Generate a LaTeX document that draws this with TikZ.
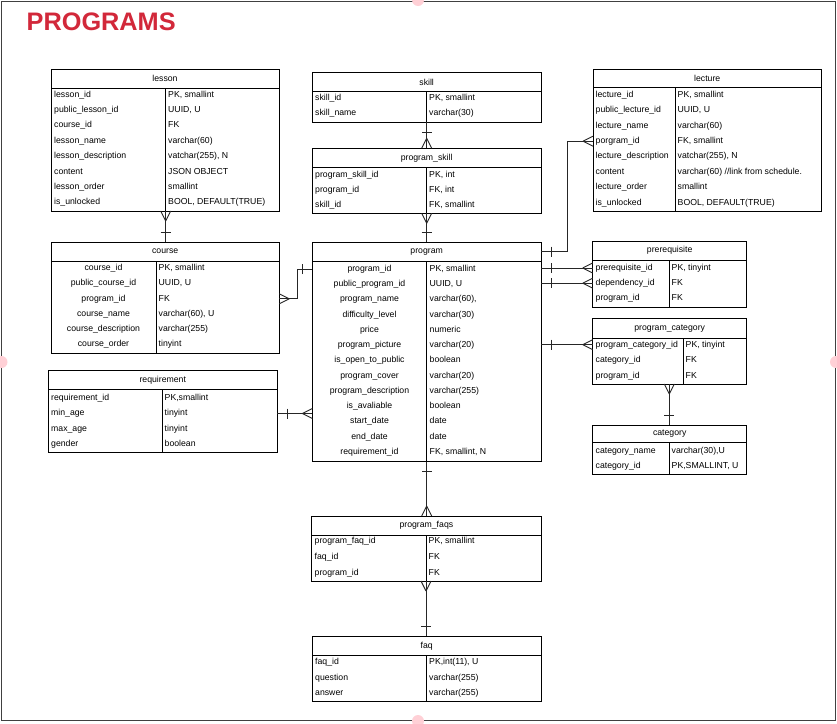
\documentclass[tikz,border=0pt]{standalone}
\usepackage{fontspec}
\setmainfont{Liberation Sans}
\definecolor{titlered}{RGB}{210,40,58}
\definecolor{handlepink}{RGB}{255,208,214}
\newcommand\tfont{\fontsize{8.7}{10}\selectfont}
\tikzset{
  tbl/.style={draw=black, line width=0.9pt, rectangle, inner sep=0pt, outer sep=0pt},
  tblline/.style={draw=black, line width=0.9pt},
  hdr/.style={font=\tfont, inner sep=0pt},
  rowtxt/.style={font=\tfont, inner sep=0pt, text height=6.3pt, text depth=1.7pt},
  conn/.style={draw=black!85, line width=0.9pt},
  titletext/.style={font=\fontsize{25.3}{28}\selectfont\bfseries, text=titlered, inner sep=0pt},
  crowfoot/.pic={\draw[conn] (10,0) -- (0,5) (10,0) -- (0,-5);},
  onebar/.pic={\draw[conn] (10,-5) -- (10,5);}
}
% id, x1, y1, x2, y2, header line y, divider x, title
\newcommand\ertbox[8]{%
  \node[tbl, minimum width={(#4-#2)*1pt}, minimum height={(#5-#3)*1pt}] (#1) at ({(#2+#4)/2},{(#3+#5)/2}) {};
  \coordinate (#1-d) at (#7,#6);
  \draw[tblline] (#2,#6) -- (#4,#6);
  \draw[tblline] (#7,#6) -- (#7,#5);
  \node[hdr] (#1-title) at ({(#2+#4)/2},{(#3+#6)/2}) {#8};
}
% id, key x, value x, first row y, row step, key anchor, list
\newcommand\ertrows[7]{%
  \foreach \k/\v [count=\i] in {#7} {
    \node[rowtxt, anchor=#6] (#1-k\i) at (#2, {#4+(\i-1)*#5+3}) {\k};
    \node[rowtxt, anchor=base west] (#1-v\i) at (#3, {#4+(\i-1)*#5+3}) {\v};
  }
}
\begin{document}
\begin{tikzpicture}[x=1pt,y=-1pt]
\useasboundingbox (0,0) rectangle (837,723);
\clip (0,0) rectangle (837,723);
\fill[white] (0,0) rectangle (837,723);
\draw[black!75, line width=0.9pt] (1.5,1.5) rectangle (835.8,720.8);

\node[titletext, anchor=base west] (title) at (26.5,30.8) {PROGRAMS};

% lesson
\ertbox{lesson}{51}{69}{279}{211}{88}{165.7}{lesson}
\ertrows{lesson}{54}{168}{94}{15.4}{base west}{lesson\_id/{PK, smallint}, public\_lesson\_id/{UUID, U}, course\_id/FK, lesson\_name/varchar(60), lesson\_description/{vatchar(255), N}, content/JSON OBJECT, lesson\_order/smallint, is\_unlocked/{BOOL, DEFAULT(TRUE)}}

% skill
\ertbox{skill}{312.3}{72.3}{541}{122}{91.7}{426.7}{skill}
\ertrows{skill}{315}{429}{97.7}{15}{base west}{skill\_id/{PK, smallint}, skill\_name/varchar(30)}

% program_skill
\ertbox{progskill}{312.3}{148.3}{541}{213.3}{167.3}{426.7}{program\_skill}
\ertrows{progskill}{315}{429}{174.3}{15}{base west}{program\_skill\_id/{PK, int}, program\_id/{FK, int}, skill\_id/{FK, smallint}}

% lecture
\ertbox{lecture}{593}{69}{821.5}{211.5}{87.3}{675}{lecture}
\ertrows{lecture}{595.5}{677.5}{94.3}{15.4}{base west}{lecture\_id/{PK, smallint}, public\_lecture\_id/{UUID, U}, lecture\_name/varchar(60), porgram\_id/{FK, smallint}, lecture\_description/{vatchar(255), N}, content/{varchar(60) //link from schedule.}, lecture\_order/smallint, is\_unlocked/{BOOL, DEFAULT(TRUE)}}

% course
\ertbox{course}{51}{242.3}{279.3}{353.3}{261}{156}{course}
\ertrows{course}{103.5}{158.5}{267.7}{15.2}{base}{course\_id/{PK, smallint}, public\_course\_id/{UUID, U}, program\_id/FK, course\_name/{varchar(60), U}, course\_description/varchar(255), course\_order/tinyint}

% program
\ertbox{program}{312.3}{242.3}{541}{461.7}{261}{426.7}{program}
\ertrows{program}{369.5}{429.5}{268.3}{15.25}{base}{program\_id/{PK, smallint}, public\_program\_id/{UUID, U}, program\_name/{varchar(60),}, difficulty\_level/varchar(30), price/numeric, program\_picture/varchar(20), is\_open\_to\_public/boolean, program\_cover/varchar(20), program\_description/varchar(255), is\_avaliable/boolean, start\_date/date, end\_date/date, requirement\_id/{FK, smallint, N}}

% prerequisite
\ertbox{prereq}{592.7}{241}{746.7}{307}{260.3}{669.3}{prerequisite}
\ertrows{prereq}{595.5}{671.5}{267.3}{15.2}{base west}{prerequisite\_id/{PK, tinyint}, dependency\_id/FK, program\_id/FK}

% program_category
\ertbox{progcat}{592.7}{318.7}{746.7}{384}{338.3}{683.3}{program\_category}
\ertrows{progcat}{595.5}{685.5}{344}{15.5}{base west}{program\_category\_id/{PK, tinyint}, category\_id/FK, program\_id/FK}

% category
\ertbox{category}{592.7}{425}{746.7}{474.3}{442.3}{669.3}{category}
\ertrows{category}{595.5}{671.5}{450}{15.7}{base west}{category\_name/{varchar(30),U}, category\_id/{PK,SMALLINT, U}}

% requirement
\ertbox{requirement}{48.3}{370.7}{277.3}{452.3}{389}{162.3}{requirement}
\ertrows{requirement}{51}{164.5}{397.3}{15.5}{base west}{requirement\_id/{PK,smallint}, min\_age/tinyint, max\_age/tinyint, gender/boolean}

% program_faqs
\ertbox{progfaqs}{311.7}{516}{541}{581}{535}{426}{program\_faqs}
\ertrows{progfaqs}{314.5}{428.5}{540.7}{15.65}{base west}{program\_faq\_id/{PK, smallint}, faq\_id/FK, program\_id/FK}

% faq
\ertbox{faq}{312.3}{636}{541}{701}{655.7}{426.7}{faq}
\ertrows{faq}{315}{429}{661.7}{15.3}{base west}{faq\_id/{PK,int(11), U}, question/varchar(255), answer/varchar(255)}

% bend coordinates
\coordinate (lecbend) at (567,0);
\coordinate (cpbend) at (297,0);

% lesson -> course
\draw[conn] (lesson.south -| lesson-d) -- (course.north -| lesson-d);
\pic[rotate=-90] at (lesson.south -| lesson-d) {crowfoot};
\pic[rotate=90] at (course.north -| lesson-d) {onebar};

% skill -> program_skill
\draw[conn] (skill.south -| skill-d) -- (progskill.north -| skill-d);
\pic[rotate=-90] at (skill.south -| skill-d) {onebar};
\pic[rotate=90] at (progskill.north -| skill-d) {crowfoot};

% program_skill -> program
\draw[conn] (progskill.south -| progskill-d) -- (program.north -| progskill-d);
\pic[rotate=-90] at (progskill.south -| progskill-d) {crowfoot};
\pic[rotate=90] at (program.north -| progskill-d) {onebar};

% program -> lecture
\draw[conn] (program.east |- program-title) -- (lecbend |- program-title) -- (lecbend |- lecture-k4) -- (lecture.west |- lecture-k4);
\pic at (program.east |- program-title) {onebar};
\pic[rotate=180] at (lecture.west |- lecture-k4) {crowfoot};

% program -> prerequisite
\draw[conn] (program.east |- prereq-k1) -- (prereq.west |- prereq-k1);
\pic at (program.east |- prereq-k1) {onebar};
\pic[rotate=180] at (prereq.west |- prereq-k1) {crowfoot};
\draw[conn] (program.east |- prereq-k2) -- (prereq.west |- prereq-k2);
\pic at (program.east |- prereq-k2) {onebar};
\pic[rotate=180] at (prereq.west |- prereq-k2) {crowfoot};

% program -> program_category
\draw[conn] (program.east |- progcat-k1) -- (progcat.west |- progcat-k1);
\pic at (program.east |- progcat-k1) {onebar};
\pic[rotate=180] at (progcat.west |- progcat-k1) {crowfoot};

% program_category -> category
\draw[conn] (progcat.south -| category-d) -- (category.north -| category-d);
\pic[rotate=-90] at (progcat.south -| category-d) {crowfoot};
\pic[rotate=90] at (category.north -| category-d) {onebar};

% course -> program
\draw[conn] (course.east |- course-k3) -- (cpbend |- course-k3) -- (cpbend |- program-k1) -- (program.west |- program-k1);
\pic at (course.east |- course-k3) {crowfoot};
\pic[rotate=180] at (program.west |- program-k1) {onebar};

% requirement -> program
\draw[conn] (requirement.east |- requirement-k2) -- (program.west |- requirement-k2);
\pic at (requirement.east |- requirement-k2) {onebar};
\pic[rotate=180] at (program.west |- requirement-k2) {crowfoot};

% program -> program_faqs
\draw[conn] (program.south -| program-d) -- (progfaqs.north -| program-d);
\pic[rotate=-90] at (program.south -| program-d) {onebar};
\pic[rotate=90] at (progfaqs.north -| program-d) {crowfoot};

% program_faqs -> faq
\draw[conn] (progfaqs.south -| progfaqs-d) -- (faq.north -| progfaqs-d);
\pic[rotate=-90] at (progfaqs.south -| progfaqs-d) {crowfoot};
\pic[rotate=90] at (faq.north -| progfaqs-d) {onebar};

% selection handles
\fill[handlepink] (418,0) circle (6);
\fill[handlepink] (1.5,362) circle (6);
\fill[handlepink] (836,362) circle (6);
\fill[handlepink] (418,721) circle (6);
\end{tikzpicture}
\end{document}
